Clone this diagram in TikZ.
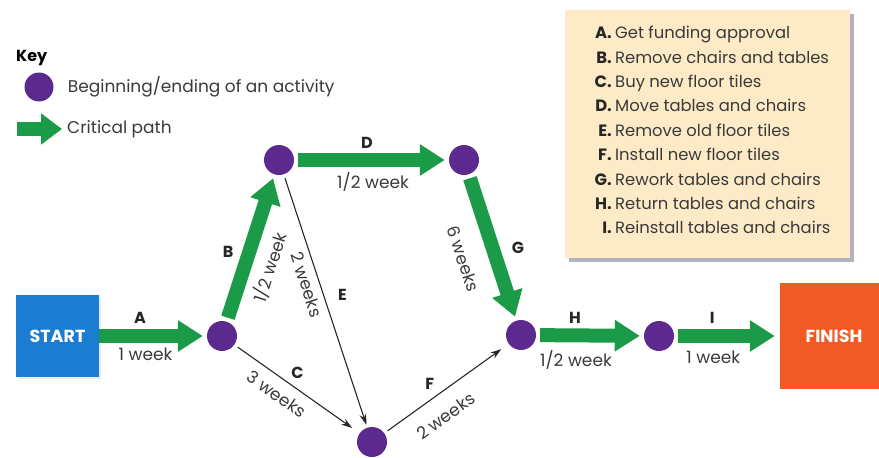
\documentclass[tikz,border=0pt]{standalone}
\usepackage{fontspec}
\setmainfont{Poppins}
\usetikzlibrary{arrows.meta,positioning,shadows}

\definecolor{critgreen}{HTML}{1B9A48}
\definecolor{eventpurple}{HTML}{5C2A8E}
\definecolor{startblue}{HTML}{1B7DD2}
\definecolor{finishorange}{HTML}{F05A24}
\definecolor{keybg}{HTML}{FDEBC8}
\definecolor{inkgray}{HTML}{3A3A3A}

\newcommand\legendfont{\fontsize{16.4}{24.4}\selectfont}
\newcommand\keyfont{\fontsize{17}{20}\selectfont}
\newcommand\labelfont{\fontsize{17}{19}\selectfont}

\begin{document}
\begin{tikzpicture}[
    x=1pt, y=-1pt,
    event/.style={circle, fill=eventpurple, minimum size=30pt, inner sep=0pt},
    crit/.style={-{Triangle[width=30pt, length=25pt]}, line width=14pt, draw=critgreen, shorten <=4pt, shorten >=4pt},
    act/.style={-{Stealth[length=11pt, width=7pt]}, line width=1.1pt, draw=black!85, shorten <=4pt},
    endbox/.style={rectangle, text=white, font=\bfseries\fontsize{17.5}{17.5}\selectfont},
    tag/.style={font=\bfseries\fontsize{16}{16}\selectfont, text=black!85, inner sep=1pt},
    dur/.style={font=\labelfont, text=inkgray, inner sep=1pt},
    keytext/.style={font=\keyfont, text=inkgray, inner sep=2pt}
  ]
    \useasboundingbox (0,0) rectangle (879,458);

    % key
    \node[font=\bfseries\fontsize{16}{16}\selectfont, anchor=west, inner sep=0pt] (keytitle) at (16,58) {Key};
    \node[event, minimum size=29pt] (keydot) at (39,87) {};
    \node[keytext, right=12pt of keydot] (keydotname) {Beginning/ending of an activity};
    \coordinate (keytail) at (17,129);
    \coordinate (keytip) at (62,129);
    \draw[crit, shorten <=0pt, shorten >=0pt, -{Triangle[width=30pt, length=21pt]}] (keytail) -- (keytip);
    \node[keytext, right=3pt of keytip] (keyarrowname) {Critical path};

    % list of activities
    \node[fill=keybg, minimum width=285pt, minimum height=248pt,
          drop shadow={shadow xshift=4pt, shadow yshift=-4pt, fill=blue!20!black, opacity=0.3}] (actbox) at (707.5,134) {};
    \node[anchor=north east, align=right, inner sep=0pt, font=\bfseries\legendfont, text=black!85] (actletters) at (612,21.4)
      {\strut A.\\B.\\C.\\D.\\E.\\F.\\G.\\H.\\I.};
    \node[anchor=north west, align=left, inner sep=0pt, font=\legendfont, text=inkgray] (actnames) at (615,21.4)
      {\strut Get funding approval\\Remove chairs and tables\\Buy new floor tiles\\Move tables and chairs\\
       Remove old floor tiles\\Install new floor tiles\\Rework tables and chairs\\Return tables and chairs\\
       Reinstall tables and chairs};

    % network
    \node[endbox, fill=startblue, minimum width=83pt, minimum height=82pt,
          drop shadow={shadow xshift=2pt, shadow yshift=-2pt, opacity=0.15}] (start) at (57.5,336) {START};
    \node[endbox, fill=finishorange, minimum width=108pt, minimum height=106pt] (finish) at (834,336) {FINISH};
    \node[event] (e1) at (222,336) {};
    \node[event] (e2) at (279,160) {};
    \node[event] (e3) at (464,160) {};
    \node[event] (e4) at (521,335) {};
    \node[event] (e5) at (372,442) {};
    \node[event] (e6) at (659,336) {};

    \draw[act, shorten >=9pt] (e1) -- (e5)
      node[tag, pos=0.44, xshift=8pt, yshift=11pt] (tagC) {C}
      node[dur, pos=0.41, sloped, below=8pt] (durC) {3 weeks};
    \draw[act, shorten >=3pt] (e2) -- (e5)
      node[tag, pos=0.5, xshift=17pt, yshift=6pt] (tagE) {E}
      node[dur, pos=0.42, sloped, below=5pt] (durE) {2 weeks};
    \draw[act, shorten >=9pt] (e5) -- (e4)
      node[tag, pos=0.43, xshift=-8pt, yshift=11pt] (tagF) {F}
      node[dur, pos=0.39, sloped, below=14pt] (durF) {2 weeks};

    \draw[crit, shorten <=0pt] (start) -- (e1)
      node[tag, pos=0.38, yshift=18pt] (tagA) {A}
      node[dur, pos=0.43, yshift=-18pt] (durA) {1 week};
    \draw[crit] (e1) -- (e2)
      node[tag, pos=0.43, xshift=-19pt, yshift=6pt] (tagB) {B}
      node[dur, pos=0.42, sloped, below=7pt] (durB) {1/2 week};
    \draw[crit] (e2) -- (e3)
      node[tag, pos=0.47, yshift=17pt] (tagD) {D}
      node[dur, pos=0.51, yshift=-22pt] (durD) {1/2 week};
    \draw[crit] (e3) -- (e4)
      node[tag, pos=0.55, xshift=23pt, yshift=7pt] (tagG) {G}
      node[dur, pos=0.51, sloped, below=17pt] (durG) {6 weeks};
    \draw[crit] (e4) -- (e6)
      node[tag, pos=0.36, yshift=18pt] (tagH) {H}
      node[dur, pos=0.37, yshift=-25pt] (durH) {1/2 week};
    \draw[crit, shorten >=5pt] (e6) -- (finish)
      node[tag, pos=0.36, yshift=18pt] (tagI) {I}
      node[dur, pos=0.37, yshift=-21pt] (durI) {1 week};
\end{tikzpicture}
\end{document}
